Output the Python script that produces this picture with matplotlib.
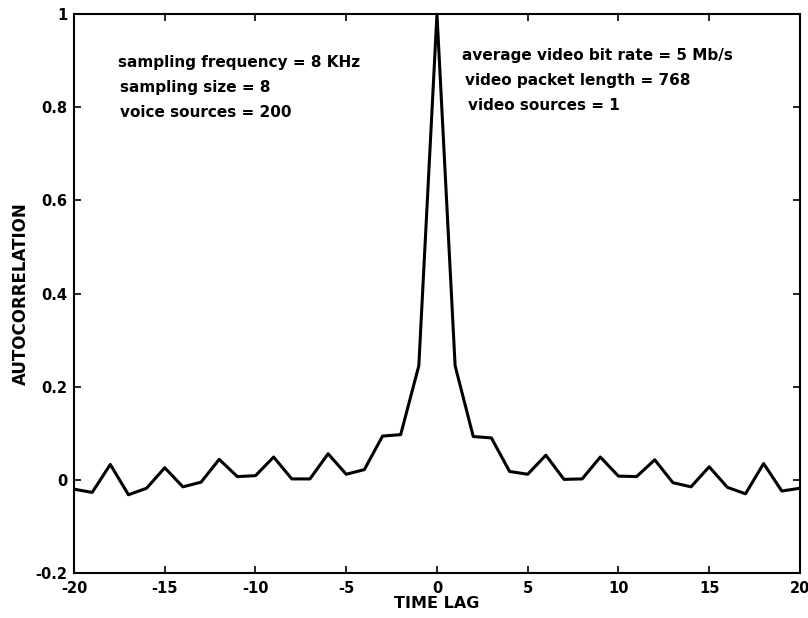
import numpy as np
import matplotlib
matplotlib.use('Agg')
import matplotlib.pyplot as plt
from matplotlib.ticker import FuncFormatter

# autocorrelation, one value per integer lag
lags = list(range(-20, 21))
autocorr = [
    -0.020, -0.027, 0.033, -0.032, -0.018, 0.026, -0.015, -0.005, 0.044, 0.007,
    0.009, 0.049, 0.002, 0.002, 0.056, 0.012, 0.022, 0.094, 0.097, 0.245,
    1.000,
    0.245, 0.093, 0.090, 0.018, 0.012, 0.053, 0.001, 0.002, 0.049, 0.008,
    0.007, 0.043, -0.006, -0.015, 0.028, -0.016, -0.030, 0.035, -0.024, -0.018,
]

x_ticks = [-20, -15, -10, -5, 0, 5, 10, 15, 20]
y_ticks = [-0.2, 0, 0.2, 0.4, 0.6, 0.8, 1]

voice_notes = ['sampling frequency = 8 KHz', 'sampling size = 8', 'voice sources = 200']
video_notes = ['average video bit rate = 5 Mb/s', 'video packet length = 768', 'video sources = 1']

plt.rcParams['font.family'] = ['DejaVu Sans']
plt.rcParams['font.weight'] = 'bold'
plt.rcParams['axes.unicode_minus'] = False

fig = plt.figure(figsize=(8.08, 6.18), dpi=100)
ax = fig.add_axes([0.0916, 0.0728, 0.8984, 0.9045])

ax.plot(lags, autocorr, color='black', linewidth=2.2)

ax.set_xlim(-20, 20)
ax.set_ylim(-0.2, 1)
ax.set_xticks(x_ticks)
ax.set_yticks(y_ticks)
fmt = FuncFormatter(lambda v, p: f'{v:g}')
ax.xaxis.set_major_formatter(fmt)
ax.yaxis.set_major_formatter(fmt)
ax.tick_params(direction='in', top=True, right=True, length=5, width=1.2,
               labelsize=10.5)
ax.tick_params(axis='x', pad=6)
ax.tick_params(axis='y', pad=5)
for lab in ax.get_xticklabels() + ax.get_yticklabels():
    lab.set_fontweight('bold')
for sp in ax.spines.values():
    sp.set_linewidth(1.5)

ax.set_xlabel('TIME LAG', fontsize=11.5, fontweight='bold', labelpad=0)
ax.set_ylabel('AUTOCORRELATION', fontsize=12, fontweight='bold', labelpad=4)

# annotation blocks, as in the original figure
for i, txt in enumerate(voice_notes):
    ax.text(-17.6 + (0.15 if i else 0), 0.895 - i * 0.053, txt,
            fontsize=11, fontweight='bold', va='center')
for i, txt in enumerate(video_notes):
    ax.text(1.4 + (0.15 if i else 0) + (0.15 if i == 2 else 0), 0.91 - i * 0.053, txt,
            fontsize=11, fontweight='bold', va='center')

fig.savefig('out.png', dpi=100)
